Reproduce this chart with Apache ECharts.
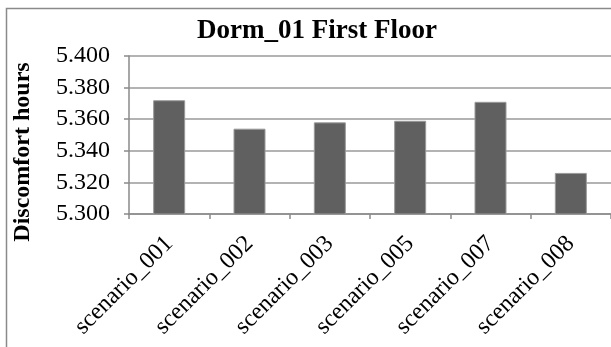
<!DOCTYPE html>
<html>
<head>
<meta charset="utf-8">
<script src="https://cdn.jsdelivr.net/npm/echarts@6/dist/echarts.min.js"></script>
<style>
  html, body { margin: 0; padding: 0; background: #fff; }
  #chart { width: 611px; height: 347px; }
</style>
</head>
<body>
<div id="chart"></div>
<script>
// Discomfort hours per scenario, first floor of Dorm_01
const categories = ['scenario_001', 'scenario_002', 'scenario_003', 'scenario_005', 'scenario_007', 'scenario_008'];
const discomfortHours = [5.372, 5.354, 5.358, 5.359, 5.371, 5.326];
const yMin = 5.30;
const yMax = 5.40;
const yStep = 0.02;

const serif = '"Liberation Serif", "Times New Roman", serif';
const chart = echarts.init(document.getElementById('chart'));

chart.setOption({
  animation: false,
  backgroundColor: '#fff',
  title: {
    text: 'Dorm_01 First Floor',
    left: 312,
    textAlign: 'center',
    top: 13,
    textStyle: { fontFamily: serif, fontSize: 27, fontWeight: 'bold', color: '#000' }
  },
  graphic: [{
    type: 'rect',
    shape: { x: 6.5, y: 8.5, width: 700, height: 400 },
    style: { fill: 'none', stroke: '#8a8a8a', lineWidth: 1.5 },
    silent: true,
    z: -1
  }],
  grid: { left: 129, right: -6, top: 56, bottom: 133, containLabel: false },
  xAxis: {
    type: 'category',
    data: categories,
    boundaryGap: true,
    axisLine: { lineStyle: { color: '#8a8a8a', width: 1.5 } },
    axisTick: { show: true, length: 5, alignWithLabel: false, lineStyle: { color: '#8a8a8a', width: 1.5 } },
    axisLabel: {
      rotate: 45,
      interval: 0,
      margin: 26,
      fontFamily: serif,
      fontSize: 24,
      color: '#000'
    }
  },
  yAxis: {
    type: 'value',
    min: yMin,
    max: yMax,
    interval: yStep,
    name: 'Discomfort hours',
    nameLocation: 'middle',
    nameRotate: 90,
    nameGap: 94,
    nameTextStyle: {
      fontFamily: serif, fontSize: 24, fontWeight: 'bold', color: '#000',
      // pushes the vertical title a little below the axis midpoint
      padding: [0, 34, 0, 0]
    },
    axisLine: { show: true, lineStyle: { color: '#8a8a8a', width: 1.5 } },
    axisTick: { show: true, length: 5, lineStyle: { color: '#8a8a8a', width: 1.5 } },
    axisLabel: {
      margin: 19,
      fontFamily: serif,
      fontSize: 24,
      color: '#000',
      formatter: v => v.toFixed(3)
    },
    splitLine: { show: true, lineStyle: { color: '#9a9a9a', width: 1.5 } }
  },
  series: [{
    type: 'bar',
    data: discomfortHours,
    barWidth: 32,
    itemStyle: { color: '#606060', borderColor: '#9a9a9a', borderWidth: 1 }
  }]
});
</script>
</body>
</html>
